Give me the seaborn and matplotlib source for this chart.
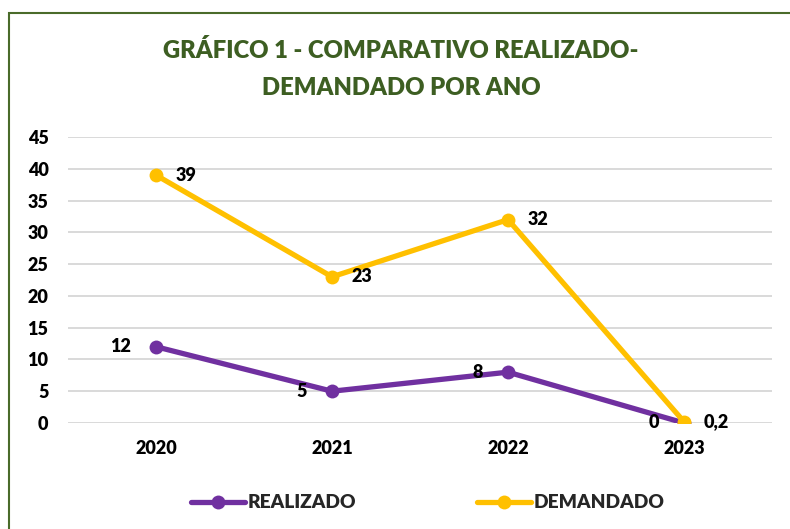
import matplotlib
matplotlib.use("Agg")
import matplotlib.pyplot as plt
import seaborn as sns
import pandas as pd
from matplotlib.patches import Rectangle
from matplotlib.lines import Line2D

anos = ["2020", "2021", "2022", "2023"]
realizado = [12, 5, 8, 0]
demandado = [39, 23, 32, 0.2]
rotulos_realizado = ["12", "5", "8", "0"]
rotulos_demandado = ["39", "23", "32", "0,2"]
yticks = [0, 5, 10, 15, 20, 25, 30, 35, 40, 45]

sns.set_style("white")
plt.rcParams["font.family"] = ["Lato", "DejaVu Sans"]

roxo = "#7030A0"
ouro = "#FFC000"
verde = "#3D5E22"
PESO = "heavy"

df = pd.DataFrame({"Ano": anos * 2,
                   "Valor": realizado + demandado,
                   "Serie": ["REALIZADO"] * 4 + ["DEMANDADO"] * 4})

fig = plt.figure(figsize=(7.9, 5.29), dpi=100)
ax = fig.add_axes([68 / 790, 1 - 423 / 529, (772 - 68) / 790, (423 - 137) / 529])

sns.lineplot(data=df, x="Ano", y="Valor", hue="Serie",
             palette={"REALIZADO": roxo, "DEMANDADO": ouro},
             hue_order=["REALIZADO", "DEMANDADO"],
             marker="o", markersize=10, markeredgewidth=0, linewidth=3.8,
             legend=False, ax=ax)

ax.set_xlim(-0.5, 3.5)
ax.set_ylim(0, 45)
ax.set_yticks(yticks)
ax.set_yticklabels([str(t) for t in yticks])
ax.yaxis.grid(True, color="#D9D9D9", linewidth=1.4)
ax.set_axisbelow(True)
for s in ax.spines.values():
    s.set_visible(False)
ax.tick_params(axis="both", length=0, labelsize=13, colors="black")
ax.tick_params(axis="y", pad=14)
ax.tick_params(axis="x", pad=12)
for lbl in ax.get_xticklabels() + ax.get_yticklabels():
    lbl.set_fontweight(PESO)
ax.set_xlabel("")
ax.set_ylabel("")

for i, (v, t) in enumerate(zip(realizado, rotulos_realizado)):
    ax.annotate(t, (i, v), xytext=(-18, 0), textcoords="offset points",
                ha="right", va="center", fontsize=13, fontweight=PESO, color="black")
for i, (v, t) in enumerate(zip(demandado, rotulos_demandado)):
    ax.annotate(t, (i, v), xytext=(14, 0), textcoords="offset points",
                ha="left", va="center", fontsize=13, fontweight=PESO, color="black")

fig.text(401 / 790, 1 - 50 / 529, "GRÁFICO 1 - COMPARATIVO REALIZADO-",
         ha="center", va="center", fontsize=17.2, fontweight=PESO, color=verde)
fig.text(401 / 790, 1 - 88 / 529, "DEMANDADO POR ANO",
         ha="center", va="center", fontsize=17.2, fontweight=PESO, color=verde)

handles = [Line2D([0], [0], color=roxo, lw=3.8, marker="o", markersize=10, markeredgewidth=0),
           Line2D([0], [0], color=ouro, lw=3.8, marker="o", markersize=10, markeredgewidth=0)]
leg = fig.legend(handles, ["REALIZADO", "DEMANDADO"], loc="center",
                 bbox_to_anchor=(428 / 790, 1 - 503 / 529), ncol=2, frameon=False,
                 prop={"size": 13.8, "weight": PESO}, handlelength=2.8,
                 handletextpad=0.15, columnspacing=6.3)

fig.patches.append(Rectangle((8.5 / 790, -0.05), 1.2, 1 - 12.5 / 529 + 0.05,
                             transform=fig.transFigure, fill=False,
                             edgecolor="#4A6B2A", linewidth=1.5))

fig.savefig("out.png", dpi=100)
